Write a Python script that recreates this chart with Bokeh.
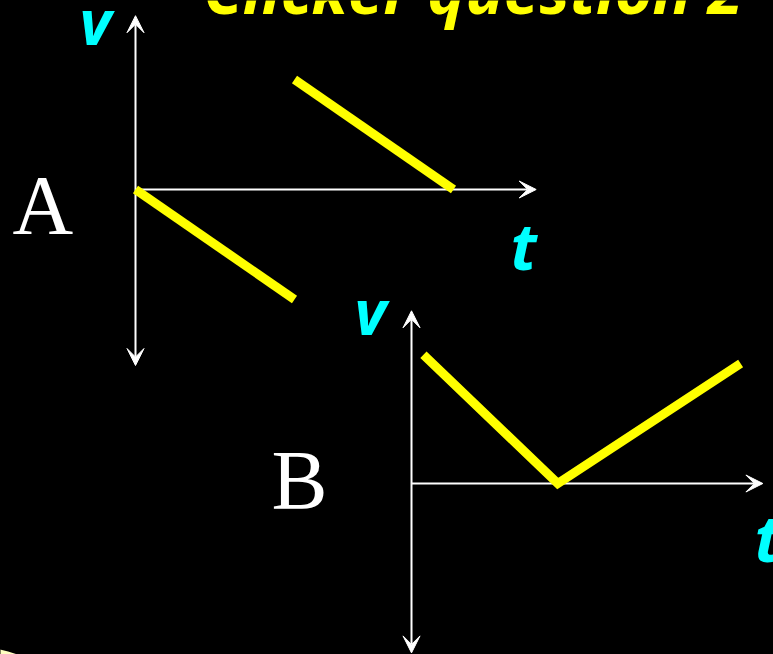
import re
from bokeh.plotting import figure
from bokeh.models import Range1d, Arrow, VeeHead
from bokeh.core.properties import value
from bokeh.embed import file_html
from bokeh.resources import INLINE

# ---------------- data (v in arbitrary units vs t in arbitrary units) -------------
# Graph A: two falling segments
a1_t = [0.0, 1.0]
a1_v = [0.0, -1.0]
a2_t = [1.0, 2.0]
a2_v = [1.0, 0.0]
# Graph B: V shape
b_t = [0.075, 0.92, 2.07]
b_v = [1.17, 0.0, 1.09]

# axis extents (t axis, v axis) for each graph
a_t_axis = [0.0, 2.52]
a_v_axis = [-1.6, 1.58]
b_t_axis = [0.0, 2.21]
b_v_axis = [-1.54, 1.57]

title_text = "Clicker question 2"
graph_labels = ["A", "B"]
axis_v_label = "v"
axis_t_label = "t"

# ---------------- layout ----------------
W, H = 773, 654
YELLOW = "#FFFF00"
CYAN = "#00FFFF"


def make_ranges(ox, oy, ux, uy):
    xr = Range1d(-ox / ux, (W - ox) / ux)
    yr = Range1d(-(H - oy) / uy, oy / uy)
    return xr, yr


p = figure(width=W, height=H, x_range=Range1d(0, W), y_range=Range1d(H, 0),
           output_backend="svg", toolbar_location=None, min_border=0,
           x_axis_location=None, y_axis_location=None,
           background_fill_color="black", border_fill_color="black",
           outline_line_color=None, outline_line_alpha=0)
p.grid.visible = False

ta, va = make_ranges(135, 189, 159, 110)
tb, vb = make_ranges(411, 483, 159, 110)
p.extra_x_ranges = {"ta": ta, "tb": tb}
p.extra_y_ranges = {"va": va, "vb": vb}


def head():
    return VeeHead(size=17, fill_color="white", line_color="white", line_width=1)


for tn, vn, tax, vax in [("ta", "va", a_t_axis, a_v_axis), ("tb", "vb", b_t_axis, b_v_axis)]:
    p.add_layout(Arrow(x_start=0, y_start=vax[0], x_end=0, y_end=vax[1],
                       start=head(), end=head(), line_color="white", line_width=2,
                       x_range_name=tn, y_range_name=vn, level="underlay"))
    p.add_layout(Arrow(x_start=tax[0], y_start=0, x_end=tax[1], y_end=0,
                       start=None, end=head(), line_color="white", line_width=2,
                       x_range_name=tn, y_range_name=vn, level="underlay"))

p.line(a1_t, a1_v, x_range_name="ta", y_range_name="va", line_color=YELLOW,
       line_width=9, line_cap="butt")
p.line(a2_t, a2_v, x_range_name="ta", y_range_name="va", line_color=YELLOW,
       line_width=9, line_cap="butt")
p.line(b_t, b_v, x_range_name="tb", y_range_name="vb", line_color=YELLOW,
       line_width=9, line_cap="butt", line_join="miter")

# corner decoration (edge of a rounded frame)
p.circle(x=[-20], y=[747], radius=100, fill_color="#FFFFC0", line_color=None)

# title (cut off at the top edge, as in the slide)
p.text(x=[203], y=[-11], text=[title_text], text_color=YELLOW,
       text_font=value("Open Sans"), text_font_style="bold italic",
       text_font_size="64px", text_baseline="alphabetic", text_align="left")

# graph labels
p.text(x=[12, 271], y=[205, 480], text=graph_labels, text_color="white",
       text_font=value("Liberation Serif"), text_font_size="84px",
       text_baseline="alphabetic", text_align="left")

# axis labels
p.text(x=[95, 370], y=[20, 310], text=[axis_v_label, axis_v_label], text_color=CYAN,
       text_font=value("Open Sans"), text_font_style="bold italic",
       text_font_size="62px", text_baseline="alphabetic", text_align="center")
p.text(x=[510, 754], y=[245, 537], text=[axis_t_label, axis_t_label], text_color=CYAN,
       text_font=value("Open Sans"), text_font_style="bold italic",
       text_font_size="64px", text_baseline="alphabetic", text_align="left")

html = file_html(p, INLINE, title="Clicker question 2")
html = re.sub(r"<html([^>]*)>", r'<html\1 style="background:#000000;">', html, count=1)
html = re.sub(r"<body([^>]*)>", r'<body\1 style="margin:0;background:#000000;overflow:hidden;">',
              html, count=1)
open("out.html", "w").write(html)
